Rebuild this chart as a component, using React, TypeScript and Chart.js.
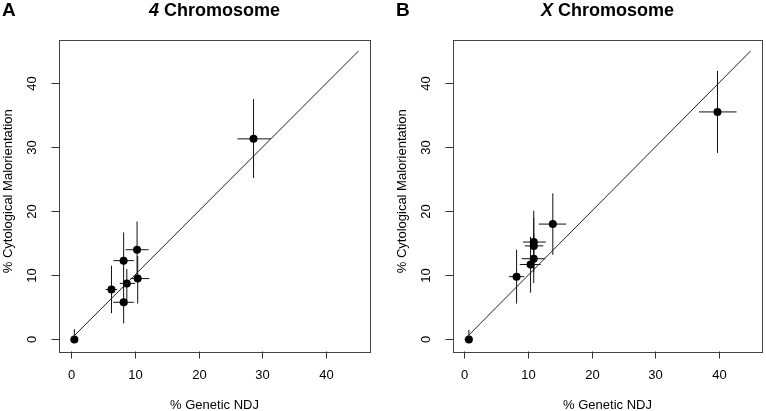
import React, { useEffect, useRef } from "react";
import { Chart, registerables } from "chart.js";

Chart.register(...registerables);

// Shared axis settings
const xTicks = [0, 10, 20, 30, 40];
const yTicks = [0, 10, 20, 30, 40];
const axisMin = -1.8;
const axisMax = 46.8;
const diagX = [0, 45];
const diagY = [0, 45];

// Panel A: 4 chromosome
const aNdj = [0.6, 6.4, 8.3, 8.3, 8.8, 10.4, 10.5, 28.6];
const aMal = [0, 7.8, 12.3, 5.8, 8.75, 14.0, 9.5, 31.3];
const aNdjLo = [0.6, 5.5, 6.7, 6.7, 7.7, 8.6, 9.4, 26.1];
const aNdjHi = [0.6, 7.3, 9.9, 9.9, 10.1, 12.2, 12.3, 31.3];
const aMalLo = [0, 4.1, 8.0, 2.5, 5.4, 9.6, 5.6, 25.2];
const aMalHi = [1.6, 11.5, 16.7, 9.0, 11.0, 18.4, 13.0, 37.5];

// Panel B: X chromosome
const bNdj = [0.7, 8.2, 10.4, 10.9, 10.9, 10.9, 13.9, 39.8];
const bMal = [0, 9.8, 11.7, 12.6, 14.6, 15.2, 18.0, 35.5];
const bNdjLo = [0.7, 7.0, 8.7, 9.0, 9.5, 9.2, 11.7, 36.9];
const bNdjHi = [0.7, 9.4, 12.0, 12.7, 12.4, 12.8, 16.0, 42.8];
const bMalLo = [0, 5.6, 7.3, 8.8, 10.5, 11.0, 13.2, 29.1];
const bMalHi = [1.5, 14.0, 16.0, 16.5, 19.0, 20.1, 22.8, 41.9];

const FONT = '"Liberation Sans", Arial, Helvetica, sans-serif';

type PanelProps = {
  letter: string;
  titleItalic: string;
  titleRest: string;
  ndj: number[];
  mal: number[];
  ndjLo: number[];
  ndjHi: number[];
  malLo: number[];
  malHi: number[];
  left: number;
  width: number;
  padRight: number;
};

function Panel(p: PanelProps) {
  const ref = useRef<HTMLCanvasElement | null>(null);
  useEffect(() => {
    const canvas = ref.current;
    if (!canvas) return;

    const errorBars = {
      id: "errorBars",
      beforeDatasetsDraw(chart: any) {
        const ctx = chart.ctx;
        const xs = chart.scales.x;
        const ys = chart.scales.y;
        ctx.save();
        ctx.strokeStyle = "#111";
        ctx.lineWidth = 1;
        for (let i = 0; i < p.ndj.length; i++) {
          const px = xs.getPixelForValue(p.ndj[i]);
          const py = ys.getPixelForValue(p.mal[i]);
          ctx.beginPath();
          ctx.moveTo(xs.getPixelForValue(p.ndjLo[i]), py);
          ctx.lineTo(xs.getPixelForValue(p.ndjHi[i]), py);
          ctx.moveTo(px, ys.getPixelForValue(p.malLo[i]));
          ctx.lineTo(px, ys.getPixelForValue(p.malHi[i]));
          ctx.stroke();
        }
        ctx.restore();
      },
    };

    const decor = {
      id: "decor",
      afterDraw(chart: any) {
        const ctx = chart.ctx;
        const a = chart.chartArea;
        const xs = chart.scales.x;
        const ys = chart.scales.y;
        ctx.save();
        // box
        ctx.strokeStyle = "#444";
        ctx.lineWidth = 1;
        ctx.strokeRect(Math.round(a.left) + 0.5, Math.round(a.top) + 0.5, Math.round(a.right - a.left), Math.round(a.bottom - a.top));
        // x ticks
        ctx.fillStyle = "#000";
        ctx.strokeStyle = "#333";
        ctx.font = `13px ${FONT}`;
        ctx.textAlign = "center";
        ctx.textBaseline = "middle";
        const bottom = Math.round(a.bottom) + 0.5;
        xTicks.forEach((v) => {
          const px = Math.round(xs.getPixelForValue(v)) + 0.5;
          ctx.beginPath();
          ctx.moveTo(px, bottom);
          ctx.lineTo(px, bottom + 7);
          ctx.stroke();
          ctx.fillText(String(v), px, a.bottom + 24);
        });
        // y ticks
        const left = Math.round(a.left) + 0.5;
        yTicks.forEach((v) => {
          const py = Math.round(ys.getPixelForValue(v)) + 0.5;
          ctx.beginPath();
          ctx.moveTo(left, py);
          ctx.lineTo(left - 8, py);
          ctx.stroke();
          ctx.save();
          ctx.translate(a.left - 27, py);
          ctx.rotate(-Math.PI / 2);
          ctx.fillText(String(v), 0, 0);
          ctx.restore();
        });
        // axis titles
        ctx.font = `13px ${FONT}`;
        ctx.fillText("% Genetic NDJ", (a.left + a.right) / 2, a.bottom + 54);
        ctx.save();
        ctx.translate(a.left - 51, (a.top + a.bottom) / 2 - 4);
        ctx.rotate(-Math.PI / 2);
        ctx.fillText("% Cytological Malorientation", 0, 0);
        ctx.restore();
        // panel letter
        ctx.font = `bold 19px ${FONT}`;
        ctx.textAlign = "left";
        ctx.fillText(p.letter, 2, 11);
        // title
        const italicFont = `italic bold 18px ${FONT}`;
        const boldFont = `bold 18px ${FONT}`;
        ctx.font = italicFont;
        const w1 = ctx.measureText(p.titleItalic).width;
        ctx.font = boldFont;
        const w2 = ctx.measureText(p.titleRest).width;
        const cx = (a.left + a.right) / 2;
        const start = cx - (w1 + w2) / 2;
        ctx.font = italicFont;
        ctx.fillText(p.titleItalic, start, 11);
        ctx.font = boldFont;
        ctx.fillText(p.titleRest, start + w1, 11);
        ctx.restore();
      },
    };

    const chart = new Chart(canvas, {
      type: "scatter",
      data: {
        datasets: [
          {
            type: "line",
            data: diagX.map((x, i) => ({ x, y: diagY[i] })),
            borderColor: "#222",
            borderWidth: 1,
            pointRadius: 0,
            fill: false,
          } as any,
          {
            type: "scatter",
            data: p.ndj.map((x, i) => ({ x, y: p.mal[i] })),
            backgroundColor: "#000",
            borderColor: "#000",
            borderWidth: 0,
            pointRadius: 4,
          },
        ],
      },
      options: {
        animation: false,
        responsive: false,
        maintainAspectRatio: false,
        layout: { padding: { top: 39.5, right: p.padRight, left: 0, bottom: 0 } },
        plugins: { legend: { display: false }, tooltip: { enabled: false } },
        scales: {
          x: {
            type: "linear",
            min: axisMin,
            max: axisMax,
            ticks: { display: false },
            grid: { display: false },
            border: { display: false },
            afterFit: (s: any) => {
              s.height = 60;
            },
          },
          y: {
            type: "linear",
            min: axisMin,
            max: axisMax,
            ticks: { display: false },
            grid: { display: false },
            border: { display: false },
            afterFit: (s: any) => {
              s.width = 59;
            },
          },
        },
      },
      plugins: [errorBars, decor],
    } as any);
    return () => chart.destroy();
  }, []);

  return (
    <canvas
      ref={ref}
      width={p.width}
      height={411}
      style={{ position: "absolute", left: p.left, top: 0, width: p.width, height: 411 }}
    />
  );
}

export default function App() {
  return (
    <div style={{ position: "fixed", left: 0, top: 0, width: 766, height: 411, background: "#fff" }}>
      <Panel
        letter="A"
        titleItalic="4"
        titleRest=" Chromosome"
        ndj={aNdj}
        mal={aMal}
        ndjLo={aNdjLo}
        ndjHi={aNdjHi}
        malLo={aMalLo}
        malHi={aMalHi}
        left={0}
        width={394}
        padRight={24}
      />
      <Panel
        letter="B"
        titleItalic="X"
        titleRest=" Chromosome"
        ndj={bNdj}
        mal={bMal}
        ndjLo={bNdjLo}
        ndjHi={bNdjHi}
        malLo={bMalLo}
        malHi={bMalHi}
        left={394}
        width={372}
        padRight={2}
      />
    </div>
  );
}
